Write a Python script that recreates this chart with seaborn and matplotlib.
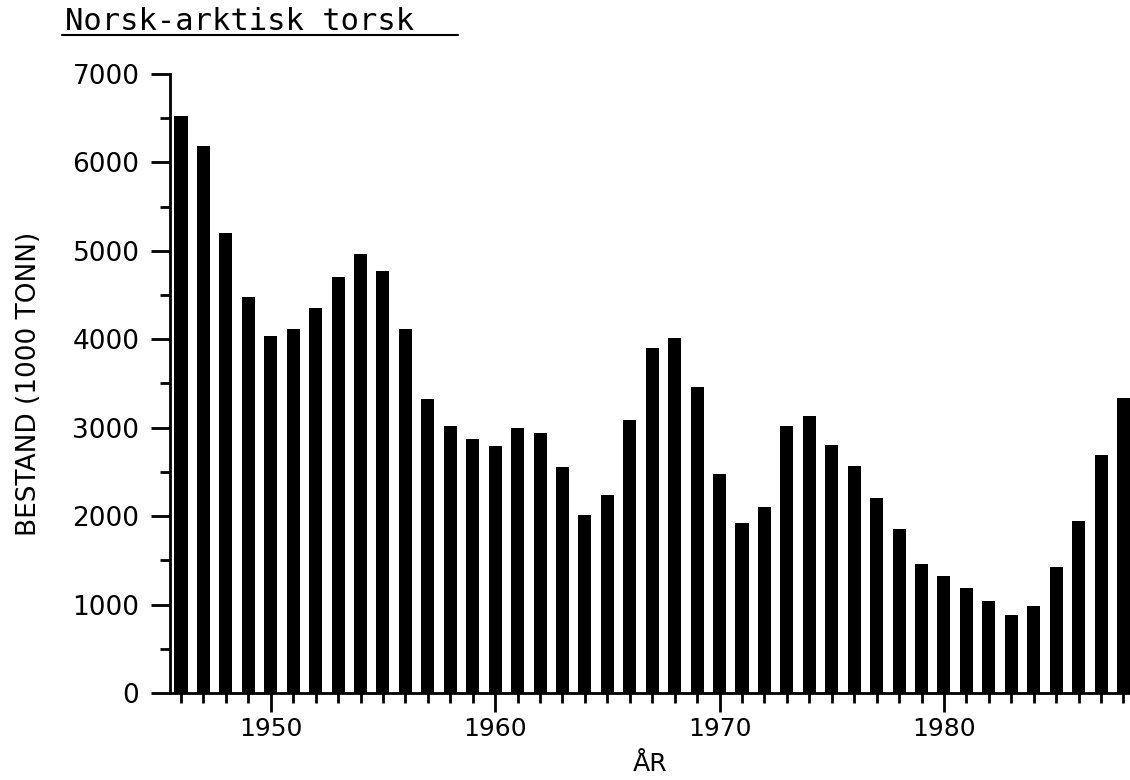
import matplotlib
matplotlib.use("Agg")
import matplotlib.pyplot as plt
from matplotlib.ticker import MultipleLocator, FixedLocator
from matplotlib.lines import Line2D
import seaborn as sns
import pandas as pd

# ---- data ----
years = list(range(1946, 1989))
stock = [6530, 6190, 5200, 4480, 4040, 4120, 4350, 4700, 4960, 4770, 4120,
         3330, 3020, 2870, 2790, 3000, 2940, 2560, 2010,
         2240, 3090, 3900, 4020, 3460, 2480, 1920, 2100, 3020, 3130, 2800,
         2570, 2210, 1850, 1460, 1320, 1190, 1040, 880, 980, 1430, 1950,
         2690, 3340]
major_years = [1950, 1960, 1970, 1980]
yticks = [0, 1000, 2000, 3000, 4000, 5000, 6000, 7000]
title = "Norsk-arktisk torsk"
ylabel = "BESTAND (1000 TONN)"
xlabel = "ÅR"

df = pd.DataFrame({"year": years, "stock": stock})

sns.set_style("ticks")
plt.rcParams["font.family"] = ["DejaVu Sans"]
for key in ["text.color", "axes.labelcolor", "xtick.color", "ytick.color",
            "axes.edgecolor"]:
    plt.rcParams[key] = "black"

W, H = 1130, 780
fig = plt.figure(figsize=(W / 100, H / 100), dpi=100)
fig.patch.set_facecolor("white")
ax = fig.add_axes([170 / W, 87 / H, 960 / W, 619 / H])

sns.barplot(data=df, x="year", y="stock", native_scale=True, color="black",
            width=0.58, errorbar=None, linewidth=0, saturation=1, ax=ax)

ax.set_xlim(1945.51, 1988.29)
ax.set_ylim(0, 7000)

ax.xaxis.set_major_locator(FixedLocator(major_years))
ax.xaxis.set_minor_locator(FixedLocator(years))
ax.set_xticklabels([str(y) for y in major_years])
ax.yaxis.set_major_locator(FixedLocator(yticks))
ax.yaxis.set_minor_locator(MultipleLocator(500))
ax.set_yticklabels([str(v) for v in yticks])

for side in ["top", "right"]:
    ax.spines[side].set_visible(False)
for side in ["left", "bottom"]:
    ax.spines[side].set_linewidth(2)
    ax.spines[side].set_color("black")

ax.tick_params(axis="both", which="major", length=14, width=2,
               direction="out", color="black", labelcolor="black")
ax.tick_params(axis="both", which="minor", length=7, width=2,
               direction="out", color="black")
ax.tick_params(axis="y", which="major", labelsize=19, pad=8)
ax.tick_params(axis="x", which="major", labelsize=18, pad=3)

ax.set_xlabel(xlabel, fontsize=18, color="black")
ax.set_ylabel(ylabel, fontsize=19, color="black")
ax.xaxis.set_label_coords(0.5, (693 - 752) / 619)
ax.yaxis.set_label_coords((42 - 170) / 960, 0.5)

ax.grid(False)

# title with underline
fig.text(65 / W, 1 - 30 / H, title, fontsize=22, family="DejaVu Sans Mono",
         ha="left", va="baseline", color="black")
fig.add_artist(Line2D([62 / W, 458 / W], [1 - 35 / H, 1 - 35 / H],
                      transform=fig.transFigure, color="black", linewidth=1.5))

fig.savefig("out.png", dpi=100, facecolor="white")
